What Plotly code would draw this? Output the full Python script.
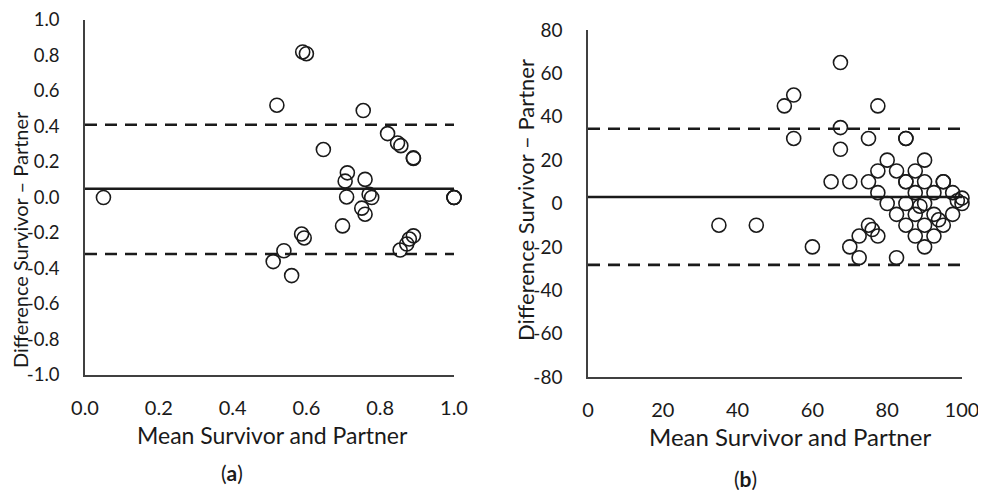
import plotly.graph_objects as go

# Panel (a) data
a_mean = [0.05, 0.59, 0.60, 0.52, 0.754, 0.646, 0.82, 0.847, 0.856, 0.89, 0.89,
          0.711, 0.705, 0.759, 0.709, 0.77, 0.777, 0.75, 0.759, 1.0, 1.0, 1.0,
          0.698, 0.587, 0.594, 0.89, 0.879, 0.872, 0.854, 0.539, 0.51, 0.56]
a_diff = [0.0, 0.82, 0.81, 0.52, 0.49, 0.27, 0.36, 0.307, 0.292, 0.223, 0.22,
          0.139, 0.092, 0.102, 0.003, 0.018, 0.0, -0.06, -0.094, 0.0, 0.0, 0.0,
          -0.16, -0.206, -0.228, -0.216, -0.234, -0.262, -0.296, -0.30, -0.361, -0.44]
a_bias = 0.049
a_upper = 0.41
a_lower = -0.318

# Panel (b) data
b_mean = [35, 45, 60, 52.5, 55, 55, 67.5, 67.5, 67.5, 77.5, 75, 85, 85,
          65, 70, 75, 80, 90, 77.5, 82.5, 87.5, 85, 85, 90, 95, 95,
          77.5, 87.5, 92.5, 97.5, 100, 98.75, 100, 80, 85, 90, 88.75,
          82.5, 87.5, 92.5, 97.5, 93.75, 95, 85, 90,
          75, 76, 77.5, 72.5, 87.5, 92.5, 70, 90, 72.5, 82.5]
b_diff = [-10, -10, -20, 45, 50, 30, 65, 35, 25, 45, 30, 30, 30,
          10, 10, 10, 20, 20, 15, 15, 15, 10, 10, 10, 10, 10,
          5, 5, 5, 5, 2.5, 1.25, 0, 0, 0, 0, -1.25,
          -5, -5, -5, -5, -7.5, -10, -10, -10,
          -10, -12, -15, -15, -15, -15, -20, -20, -25, -25]
b_bias = 3
b_upper = 34.5
b_lower = -28.3

a_xticks = [0.0, 0.2, 0.4, 0.6, 0.8, 1.0]
a_yticks = [-1.0, -0.8, -0.6, -0.4, -0.2, 0.0, 0.2, 0.4, 0.6, 0.8, 1.0]
b_xticks = [0, 20, 40, 60, 80, 100]
b_yticks = [-80, -60, -40, -20, 0, 20, 40, 60, 80]

xtitle = "Mean Survivor and Partner"
ytitle = "Difference Survivor – Partner"

FONT = "Lato"
TXT = "#1a1a1a"
AX = "#404040"
OFF = 8  # page body margin
W, H = 986 - OFF, 490 - OFF


def px(v):
    return (v - OFF) / W


def py(v):
    return 1 - (v - OFF) / H


fig = go.Figure()


def add_panel(xs, ys, bias, up, lo, xr, xa, ya):
    for val, dash in [(up, "12px,8px"), (lo, "12px,8px"), (bias, "solid")]:
        fig.add_trace(go.Scatter(x=[xr[0], xr[1]], y=[val, val], mode="lines",
                                 line=dict(color="#1a1a1a", width=2.6, dash=dash),
                                 xaxis=xa, yaxis=ya, showlegend=False, hoverinfo="skip"))
    fig.add_trace(go.Scatter(x=xs, y=ys, mode="markers", cliponaxis=False,
                             marker=dict(symbol="circle-open", size=14,
                                         color="#1a1a1a", line=dict(width=1.6)),
                             xaxis=xa, yaxis=ya, showlegend=False))


add_panel(a_mean, a_diff, a_bias, a_upper, a_lower, [0, 1.0], "x", "y")
add_panel(b_mean, b_diff, b_bias, b_upper, b_lower, [0, 100], "x2", "y2")


def axcommon(size, standoff):
    return dict(showgrid=False, zeroline=False, showline=True, linecolor=AX,
                linewidth=1.5, ticks="", automargin=False, ticklabelstandoff=standoff,
                ticklabeloverflow="allow",
                tickfont=dict(family=FONT, size=size, color=TXT))


def ann(text, x, y, size, angle=0):
    return dict(text=text, x=px(x), y=py(y), xref="paper", yref="paper",
                showarrow=False, textangle=angle, xanchor="center", yanchor="middle",
                font=dict(family=FONT, size=size, color=TXT))


fig.update_layout(
    width=W, height=H, margin=dict(l=0, r=0, t=0, b=0),
    paper_bgcolor="white", plot_bgcolor="white", showlegend=False,
    xaxis=dict(domain=[px(85), px(454)], range=[0, 1.0], tickvals=a_xticks,
               ticktext=[f"{v:.1f}" for v in a_xticks], anchor="y",
               **axcommon(20, 14)),
    yaxis=dict(domain=[py(375), py(20)], range=[-1.0, 1.0], tickvals=a_yticks,
               ticktext=[f"{v:.1f}" for v in a_yticks], anchor="x",
               **axcommon(18.5, 20)),
    xaxis2=dict(domain=[px(588), px(962)], range=[0, 100], tickvals=b_xticks,
                ticktext=[str(v) for v in b_xticks], anchor="y2",
                **axcommon(20, 14)),
    yaxis2=dict(domain=[py(377), py(30)], range=[-80, 80], tickvals=b_yticks,
                ticktext=[str(v) for v in b_yticks], anchor="x2",
                **axcommon(19, 20)),
    annotations=[
        ann(xtitle, 272, 435, 23),
        ann(xtitle, 790, 436, 24),
        ann(ytitle, 20, 240, 20, -90),
        ann(ytitle, 526, 200, 22, -90),
        ann("(<b>a</b>)", 232, 472, 21),
        ann("(<b>b</b>)", 745, 478, 21),
    ],
)

fig.write_html("out.html")
